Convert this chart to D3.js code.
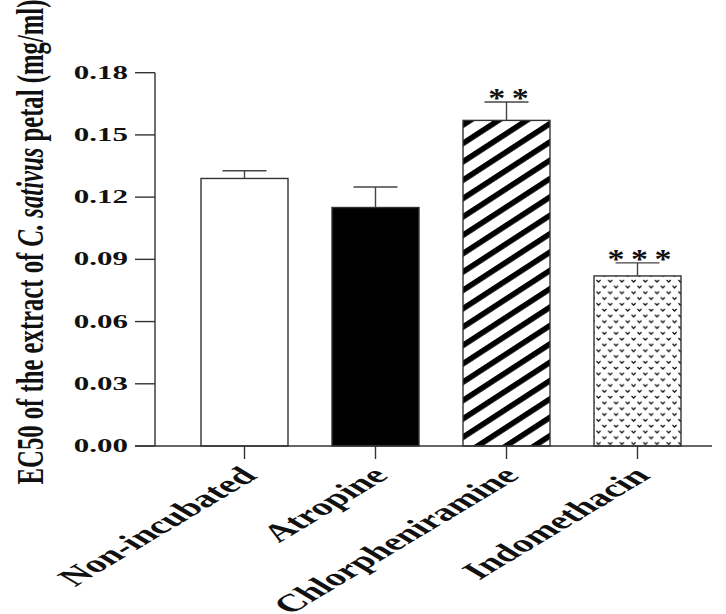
<!DOCTYPE html>
<html>
<head>
<meta charset="utf-8">
<script src="https://cdn.jsdelivr.net/npm/d3@7"></script>
<style>
  body { margin: 0; background: #fff; }
  text { font-family: "Liberation Serif", "Times New Roman", serif; font-weight: bold; }
</style>
</head>
<body>
<div id="chart"></div>
<script>
// data
const groups = ["Non-incubated", "Atropine", "Chlorpheniramine", "Indomethacin"];
const means = [0.129, 0.115, 0.157, 0.082];
const sems = [0.0037, 0.0099, 0.0089, 0.0063];
const stars = [0, 0, 2, 3];
const fills = ["white", "black", "url(#stripes)", "url(#dots)"];
const yTicks = [0, 0.03, 0.06, 0.09, 0.12, 0.15, 0.18];

const width = 726, height = 614;
const squash = 0.575; // text in the figure is squeezed vertically
const axisX = 155, axisY = 446;

const svg = d3.select("#chart").append("svg")
  .attr("width", width)
  .attr("height", height);

// patterns
const defs = svg.append("defs");
const stripes = defs.append("pattern")
  .attr("id", "stripes")
  .attr("patternUnits", "userSpaceOnUse")
  .attr("width", 10)
  .attr("height", 15.4)
  .attr("patternTransform", "rotate(-33)");
stripes.append("rect").attr("width", 10).attr("height", 15.4).attr("fill", "white");
stripes.append("rect").attr("y", 0).attr("width", 10).attr("height", 5.6).attr("fill", "black");

const dots = defs.append("pattern")
  .attr("id", "dots")
  .attr("patternUnits", "userSpaceOnUse")
  .attr("width", 11.7)
  .attr("height", 11.6)
  .attr("x", 596)
  .attr("y", 279);
dots.append("rect").attr("width", 11.7).attr("height", 11.6).attr("fill", "white");
dots.append("path")
  .attr("d", "M0.5,1 l2,2 l2,-2 M6.35,6.8 l2,2 l2,-2")
  .attr("fill", "none")
  .attr("stroke", "#000")
  .attr("stroke-width", 1.2);

// scales
const x = d3.scaleBand().domain(groups).range([179, 703]).paddingInner(0.336).paddingOuter(0.168);
const y = d3.scaleLinear().domain([0, 0.18]).range([axisY, 72.7]);

// bars
svg.selectAll(".bar")
  .data(groups)
  .enter()
  .append("rect")
  .attr("class", "bar")
  .attr("x", (d) => x(d))
  .attr("y", (d, i) => y(means[i]))
  .attr("width", x.bandwidth())
  .attr("height", (d, i) => axisY - y(means[i]))
  .attr("fill", (d, i) => fills[i])
  .attr("stroke", "#333")
  .attr("stroke-width", 1.4);

// error bars (upper only)
const eb = svg.selectAll(".err")
  .data(groups)
  .enter()
  .append("g")
  .attr("class", "err")
  .attr("stroke", "#444")
  .attr("stroke-width", 1.4);
eb.append("line")
  .attr("x1", (d) => x(d) + x.bandwidth() / 2)
  .attr("x2", (d) => x(d) + x.bandwidth() / 2)
  .attr("y1", (d, i) => y(means[i]))
  .attr("y2", (d, i) => y(means[i] + sems[i]));
eb.append("line")
  .attr("x1", (d) => x(d) + x.bandwidth() / 2 - 22)
  .attr("x2", (d) => x(d) + x.bandwidth() / 2 + 22)
  .attr("y1", (d, i) => y(means[i] + sems[i]))
  .attr("y2", (d, i) => y(means[i] + sems[i]));

// significance stars, one text per asterisk
const starData = groups.flatMap((g, i) =>
  d3.range(stars[i]).map((k) => ({
    cx: x(g) + x.bandwidth() / 2 + 2 + (k - (stars[i] - 1) / 2) * 23.5,
    cy: y(means[i] + sems[i])
  }))
);
svg.selectAll(".star")
  .data(starData)
  .enter()
  .append("text")
  .attr("class", "star")
  .attr("transform", (d) => `translate(${d.cx},${d.cy + 5}) scale(1,0.8)`)
  .attr("text-anchor", "middle")
  .attr("font-size", 34)
  .attr("fill", "#111")
  .text("*");

// y axis
const yAxis = svg.append("g").attr("stroke", "#333").attr("stroke-width", 1.4);
yAxis.append("line").attr("x1", axisX).attr("x2", axisX).attr("y1", y(0.18)).attr("y2", axisY);
yAxis.selectAll(".ytick")
  .data(yTicks)
  .enter()
  .append("line")
  .attr("x1", axisX - 20)
  .attr("x2", axisX)
  .attr("y1", (d) => y(d))
  .attr("y2", (d) => y(d));
svg.selectAll(".ylab")
  .data(yTicks)
  .enter()
  .append("text")
  .attr("class", "ylab")
  .attr("transform", (d) => `translate(128,${y(d) + 6}) scale(1,${squash})`)
  .attr("text-anchor", "end")
  .attr("font-size", 31)
  .attr("fill", "#111")
  .text((d) => d3.format(".2f")(d));

// x axis
const xAxis = svg.append("g").attr("stroke", "#333").attr("stroke-width", 1.4);
xAxis.append("line").attr("x1", axisX - 20).attr("x2", 712).attr("y1", axisY).attr("y2", axisY);
xAxis.selectAll(".xtick")
  .data(groups)
  .enter()
  .append("line")
  .attr("x1", (d) => x(d) + x.bandwidth() / 2)
  .attr("x2", (d) => x(d) + x.bandwidth() / 2)
  .attr("y1", axisY)
  .attr("y2", axisY + 13);
svg.selectAll(".xlab")
  .data(groups)
  .enter()
  .append("text")
  .attr("class", "xlab")
  .attr("transform", (d) => `translate(${x(d) + x.bandwidth() / 2 + 14},${axisY + 31}) scale(1,0.6) rotate(-45)`)
  .attr("text-anchor", "end")
  .attr("font-size", 41)
  .attr("fill", "#111")
  .text((d) => d);

// y axis title
const title = svg.append("text")
  .attr("transform", `translate(43,242) scale(1,0.65) rotate(-90)`)
  .attr("text-anchor", "middle")
  .attr("font-size", 38)
  .attr("fill", "#111");
title.append("tspan").text("EC50 of the extract of ");
title.append("tspan").attr("font-style", "italic").text("C. sativus");
title.append("tspan").text(" petal (mg/ml)");
</script>
</body>
</html>
